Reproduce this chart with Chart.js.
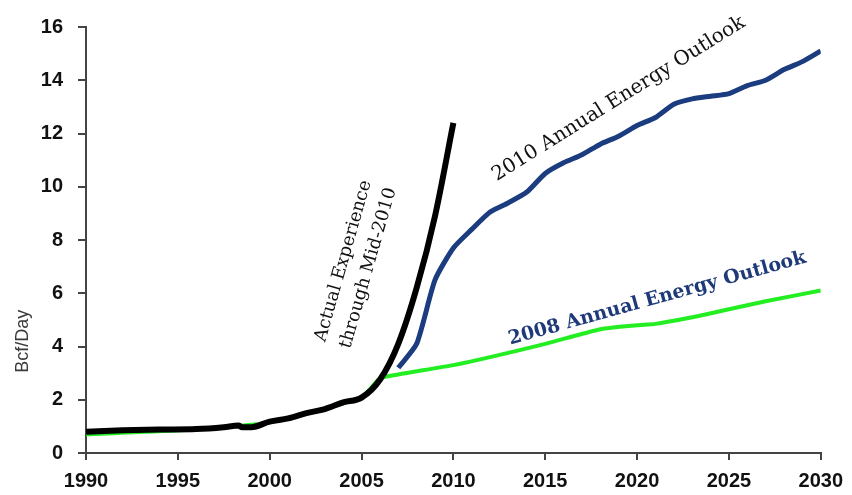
<!DOCTYPE html>
<html>
<head>
<meta charset="utf-8">
<script src="https://cdn.jsdelivr.net/npm/chart.js@4.4.1/dist/chart.umd.min.js"></script>
<style>
  html, body { margin: 0; padding: 0; background: #fff; }
  #wrap { width: 852px; height: 495px; }
</style>
</head>
<body>
<div id="wrap"><canvas id="gasChart"></canvas></div>
<script>
// Actual production (black)
const actualYears = [1990, 1992, 1994, 1996, 1997.5, 1998.3, 1998.5, 1999, 2000, 2001, 2002, 2003, 2004, 2005, 2006, 2007, 2008, 2009, 2010];
const actualValues = [0.8, 0.85, 0.88, 0.9, 0.97, 1.03, 0.97, 0.97, 1.18, 1.3, 1.5, 1.65, 1.9, 2.08, 2.75, 4.1, 6.2, 8.9, 12.4];

// 2008 Annual Energy Outlook (green)
const aeo2008Years = [1990, 1995, 2000, 2005, 2006, 2007, 2010, 2012, 2015, 2018, 2020, 2021, 2023, 2025, 2027, 2030];
const aeo2008Values = [0.7, 0.85, 1.15, 2.1, 2.8, 2.95, 3.3, 3.6, 4.1, 4.65, 4.8, 4.85, 5.1, 5.4, 5.7, 6.1];

// 2010 Annual Energy Outlook (blue)
const aeo2010Years = [2007, 2008, 2009, 2010, 2011, 2012, 2013, 2014, 2015, 2016, 2017, 2018, 2019, 2020, 2021, 2022, 2023, 2024, 2025, 2026, 2027, 2028, 2029, 2030];
const aeo2010Values = [3.2, 4.1, 6.5, 7.7, 8.4, 9.05, 9.4, 9.8, 10.5, 10.9, 11.2, 11.6, 11.9, 12.3, 12.6, 13.1, 13.3, 13.4, 13.5, 13.8, 14.0, 14.4, 14.7, 15.1];

const xTicks = [1990, 1995, 2000, 2005, 2010, 2015, 2020, 2025, 2030];
const yTicks = [0, 2, 4, 6, 8, 10, 12, 14, 16];

function toPoints(xs, ys) {
  return xs.map(function(x, i) { return { x: x, y: ys[i] }; });
}

// rotated annotation labels, anchored in data coordinates
const labelPlugin = {
  id: 'labels',
  afterDatasetsDraw: function(chart) {
    const ctx = chart.ctx;
    const xs = chart.scales.x;
    const ys = chart.scales.y;
    function put(lines, px, py, angle, font, color, gap) {
      ctx.save();
      ctx.translate(px, py);
      ctx.rotate(angle * Math.PI / 180);
      ctx.font = font;
      ctx.fillStyle = color;
      ctx.textAlign = 'center';
      ctx.textBaseline = 'middle';
      lines.forEach(function(t, i) {
        ctx.fillText(t, 0, (i - (lines.length - 1) / 2) * gap);
      });
      ctx.restore();
    }
    put(['2010 Annual Energy Outlook'], xs.getPixelForValue(2019.0), ys.getPixelForValue(13.3), -32,
        '20px "DejaVu Serif"', '#111', 0);
    put(['2008 Annual Energy Outlook'], xs.getPixelForValue(2021.1), ys.getPixelForValue(5.8), -15.5,
        'bold 19px "DejaVu Serif"', '#1f3a78', 0);
    put(['Actual Experience', 'through Mid-2010'], xs.getPixelForValue(2004.7), ys.getPixelForValue(7.08), -74,
        '18px "DejaVu Serif"', '#111', 26);
    // axis title, placed lower than centre as in the original
    put(['Bcf/Day'], ys.left + 23, ys.getPixelForValue(4.2), -90,
        '18px "Liberation Sans", Arial', '#3a3a3a', 0);
  }
};

const tickFont = { family: 'Liberation Sans, Arial', size: 20, weight: 'bold' };

const ctx = document.getElementById('gasChart').getContext('2d');
const gasChart = new Chart(ctx, {
  type: 'line',
  data: {
    datasets: [
      {
        label: 'Actual Experience through Mid-2010',
        data: toPoints(actualYears, actualValues),
        borderColor: '#000',
        borderWidth: 6,
        pointRadius: 0,
        cubicInterpolationMode: 'monotone',
        order: 1
      },
      {
        label: '2010 Annual Energy Outlook',
        data: toPoints(aeo2010Years, aeo2010Values),
        borderColor: '#1c3c80',
        borderWidth: 5,
        pointRadius: 0,
        tension: 0.2,
        order: 2
      },
      {
        label: '2008 Annual Energy Outlook',
        data: toPoints(aeo2008Years, aeo2008Values),
        borderColor: '#22ee22',
        borderWidth: 4,
        pointRadius: 0,
        tension: 0.2,
        order: 3
      }
    ]
  },
  options: {
    responsive: true,
    maintainAspectRatio: false,
    animation: false,
    layout: {
      padding: { left: 0, right: 30, top: 21, bottom: 0 }
    },
    scales: {
      x: {
        type: 'linear',
        min: 1990,
        max: 2030,
        afterBuildTicks: function(axis) {
          axis.ticks = xTicks.map(function(v) { return { value: v }; });
        },
        afterFit: function(axis) { axis.height = 42; },
        border: { color: '#444', width: 2 },
        grid: { drawOnChartArea: false, drawTicks: true, tickLength: 7, color: '#444', lineWidth: 2 },
        ticks: {
          padding: 9,
          color: '#111',
          maxRotation: 0,
          font: tickFont,
          callback: function(v) { return String(v); }
        }
      },
      y: {
        min: 0,
        max: 16,
        afterBuildTicks: function(axis) {
          axis.ticks = yTicks.map(function(v) { return { value: v }; });
        },
        afterFit: function(axis) { axis.width = 86; },
        border: { color: '#444', width: 2 },
        grid: { drawOnChartArea: false, drawTicks: true, tickLength: 8, color: '#444', lineWidth: 2 },
        ticks: {
          padding: 15,
          color: '#111',
          font: tickFont,
          callback: function(v) { return String(v); }
        }
      }
    },
    plugins: {
      legend: { display: false },
      tooltip: { enabled: false }
    }
  },
  plugins: [labelPlugin]
});
</script>
</body>
</html>
